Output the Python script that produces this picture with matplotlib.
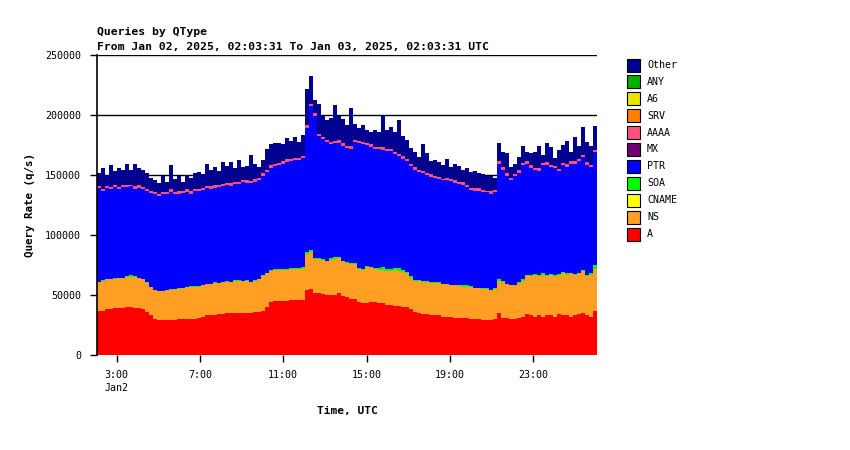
import matplotlib
matplotlib.use('Agg')
import matplotlib.pyplot as plt
from matplotlib.patches import Rectangle
import numpy as np

# query rates per bin, thousands of q/s (bins start 02:03:31, Jan 02)
a_rate = [37, 37, 38, 38, 39, 39, 39, 40, 40, 39, 39, 38,
          36, 33, 30, 29, 29, 29, 29, 29, 30, 30, 30, 30, 30,
          31, 32, 33, 33, 33, 34, 34, 35, 35, 35, 35, 35, 35, 35, 36, 36, 37,
          40, 44, 45, 45, 45, 45, 46, 46, 46, 46,
          54, 55, 52,
          52, 51, 50, 50, 50, 52, 49, 48, 47,
          47, 44, 43, 43, 44, 44, 43, 43, 42, 42, 41, 41, 40,
          40, 38, 36, 35, 34, 34, 33, 33, 33, 32, 32, 32, 31, 31, 31, 31, 30, 30,
          30, 29, 29, 29, 30, 35,
          31, 31, 30, 30, 31, 32, 34, 33, 32, 33, 32, 33, 33, 32, 34, 33, 33, 32, 33, 34, 35, 33, 32, 37]
ns_rate = [24, 25, 25, 25, 24, 25, 25, 25, 25, 26, 25, 25,
           24, 24, 24, 24, 24, 25, 25, 26, 25, 26, 27, 27, 27,
           26, 26, 26, 26, 27, 26, 27, 26, 26, 27, 27, 27, 27, 26, 26, 27, 29,
           28, 26, 26, 26, 26, 26, 26, 26, 26, 26,
           30, 31, 28,
           28, 28, 28, 29, 30, 29, 29, 29, 29,
           29, 28, 28, 30, 29, 28, 28, 28, 28, 28, 30, 29, 29,
           28, 26, 26, 27, 27, 27, 27, 27, 27, 27, 27, 26, 27, 27, 26, 26, 27, 26,
           26, 26, 26, 25, 25, 27,
           30, 28, 28, 28, 29, 30, 32, 33, 35, 33, 35, 33, 34, 34, 33, 35, 34, 36, 34, 34, 35, 33, 35, 35]
soa_rate = [0, 0.5, 0.5, 0, 1, 0.5, 0, 1, 1.5, 0.5, 0.5, 0,
            0.5, 0, 0, 0.5, 0, 0.5, 1, 0, 0.5, 0, 0, 0.5, 0.5,
            0.5, 0.5, 0, 0.5, 0.5, 0, 0, 0.5, 0, 0.5, 0.5, 0, 0.5, 0, 0.5, 0.5, 0.5,
            0.5, 1, 0.5, 0.5, 0.5, 1, 0.5, 0.5, 0.5, 1,
            1.5, 1.5, 0.5,
            0.5, 1, 0.5, 1.5, 1.5, 1, 0.5, 0.5, 1,
            0.5, 0.5, 0.5, 1, 0.5, 0.5, 1.5, 2, 2, 2, 1.5, 2.5, 1.5,
            1.5, 1.5, 0.5, 0.5, 0.5, 1, 0.5, 0.5, 0.5, 0.5, 0.5, 0, 0.5, 0.5, 1, 1, 0.5, 0,
            0, 0.5, 0.5, 0.5, 0.5, 1.5,
            0.5, 0.5, 0.5, 0.5, 1, 1, 0.5, 1, 0.5, 0.5, 1, 0.5, 0.5, 0.5, 0.5, 1, 1, 0.5, 0.5, 0.5, 1, 0.5, 1.5, 3]
ptr_rate = [78, 74, 76, 75, 76, 74, 76, 74, 74, 73, 75, 75,
            76, 78, 80, 79, 81, 80, 81, 79, 79, 79, 79, 77, 79,
            79, 79, 80, 79, 79, 80, 80, 80, 80, 80, 80, 82, 81, 82, 82, 82, 83,
            84, 85, 86, 87, 88, 89, 89, 90, 90, 91,
            104, 120, 119,
            102, 100, 99, 95, 95, 95, 96, 95, 95,
            101, 104, 104, 101, 100, 99, 99, 98, 98, 98, 95, 93, 93,
            92, 92, 92, 90, 90, 88, 88, 87, 86, 86, 86, 87, 85, 84, 84, 82, 80, 81,
            81, 80, 80, 80, 80, 96,
            93, 90, 87, 91, 91, 95, 93, 89, 87, 87, 90, 92, 89, 89, 86, 89, 89, 91, 92, 93, 94, 92, 88, 94]
aaaa_rate = [2, 2, 1.5, 2, 2, 1.5, 2, 2, 1.5, 2, 2, 2,
             2, 1.5, 2, 2, 2, 1.5, 2, 2, 2, 1.5, 2, 2, 2,
             2, 2, 1.5, 2, 2, 2, 1.5, 2, 2, 2, 2, 1.5, 2, 2, 2, 2, 2,
             2, 2, 2, 1.5, 2, 2, 2, 2, 2, 2,
             2, 2, 2,
             2, 2, 1.5, 2, 2, 2, 2, 1.5, 2,
             2, 2, 2, 1.5, 2, 2, 2, 2, 1.5, 2, 2, 2, 2,
             2, 2, 2, 1.5, 2, 2, 2, 2, 2, 1.5, 2, 2, 2, 2, 2, 1.5, 2, 2,
             2, 2, 1.5, 2, 2, 2,
             2, 2, 2, 1.5, 2, 2, 2, 2, 1.5, 2, 2, 2, 2, 2, 1.5, 2, 2, 2, 2, 1.5, 2, 2, 2, 2]
other_rate = [11, 17, 9, 18, 11, 16, 12, 17, 12, 19, 14, 14,
              13, 11, 10, 9, 13, 8, 20, 11, 13, 8, 12, 11, 13,
              14, 11, 19, 14, 15, 11, 18, 14, 18, 11, 18, 11, 12, 22, 13, 9, 11,
              17, 18, 17, 17, 14, 18, 15, 17, 13, 17,
              30, 23, 11,
              25, 18, 17, 20, 30, 20, 20, 18, 32,
              13, 11, 14, 11, 10, 14, 12, 27, 16, 18, 16, 28, 17,
              16, 13, 13, 11, 22, 16, 11, 13, 12, 11, 16, 10, 14, 13, 10, 14, 13, 14,
              13, 13, 12, 13, 10, 15,
              13, 17, 9, 8, 11, 14, 8, 10, 13, 19, 7, 16, 15, 7, 16, 15, 19, 8, 20, 11, 23, 17, 16, 20]

qtypes = ['A', 'NS', 'CNAME', 'SOA', 'PTR', 'MX', 'AAAA', 'SRV', 'A6', 'ANY', 'Other']
colors = {'A': '#FF0000', 'NS': '#FF9F24', 'CNAME': '#FFFF00', 'SOA': '#00FF00',
          'PTR': '#0000FF', 'MX': '#700070', 'AAAA': '#FF5080', 'SRV': '#FF8000',
          'A6': '#E6E600', 'ANY': '#00B000', 'Other': '#000090'}

n = len(a_rate)
zero = [0] * n
series = {'A': a_rate, 'NS': ns_rate, 'CNAME': zero, 'SOA': soa_rate, 'PTR': ptr_rate,
          'MX': zero, 'AAAA': aaaa_rate, 'SRV': zero, 'A6': zero, 'ANY': zero,
          'Other': other_rate}

start = 2 + 3 / 60 + 31 / 3600
width = 24.0 / n
x = start + np.arange(n) * width

plt.rcParams['font.family'] = ['DejaVu Sans Mono']
fig = plt.figure(figsize=(8.5, 4.5), dpi=100)
ax = fig.add_axes([97 / 850, 1 - 355 / 450, 500 / 850, 300 / 450])

bottom = np.zeros(n)
for q in qtypes:
    vals = np.array(series[q], dtype=float) * 1000
    if vals.sum() > 0:
        ax.bar(x, vals, width=width, bottom=bottom, align='edge', color=colors[q],
               linewidth=0, antialiased=False, zorder=2)
    bottom += vals

ax.set_xlim(start, start + 24)
ax.set_ylim(0, 250000)
ax.set_yticks(range(0, 250001, 50000))
ax.set_yticklabels([str(v) for v in range(0, 250001, 50000)], fontsize=7.2)
ax.set_xticks([3, 7, 11, 15, 19, 23])
ax.set_xticklabels(['3:00\nJan2', '7:00', '11:00', '15:00', '19:00', '23:00'], fontsize=7.2)
for lbl in ax.get_xticklabels()[:1]:
    lbl.set_multialignment('left')
    lbl.set_linespacing(1.45)
ax.grid(axis='y', color='black', linewidth=1, zorder=1)
ax.set_axisbelow(True)
for s in ['top', 'right', 'bottom']:
    ax.spines[s].set_visible(False)
ax.spines['left'].set_linewidth(1.2)
ax.spines['left'].set_zorder(3)
ax.tick_params(axis='both', length=5, width=1, color='black')
ax.tick_params(axis='x', pad=5.5)
ax.tick_params(axis='y', pad=6.5)

ax.set_xlabel('Time, UTC', fontsize=8, fontweight='bold', labelpad=9)
ax.set_ylabel('Query Rate (q/s)', fontsize=7.8, fontweight='bold', labelpad=7)

fig.text(97 / 850, 1 - 32 / 450, 'Queries by QType', fontsize=8.2, fontweight='bold', va='center')
fig.text(97 / 850, 1 - 47 / 450, 'From Jan 02, 2025, 02:03:31 To Jan 03, 2025, 02:03:31 UTC',
         fontsize=8.2, fontweight='bold', va='center')

# legend, top to bottom
for k, q in enumerate(qtypes[::-1]):
    yc = 65 + k * 16.9
    fig.patches.append(Rectangle((627 / 850, 1 - (yc + 6.5) / 450), 13 / 850, 13 / 450,
                                 transform=fig.transFigure, facecolor=colors[q],
                                 edgecolor='black', linewidth=0.8))
    fig.text(647 / 850, 1 - yc / 450, q, fontsize=7.2, va='center')

fig.savefig('out.png', dpi=100)
